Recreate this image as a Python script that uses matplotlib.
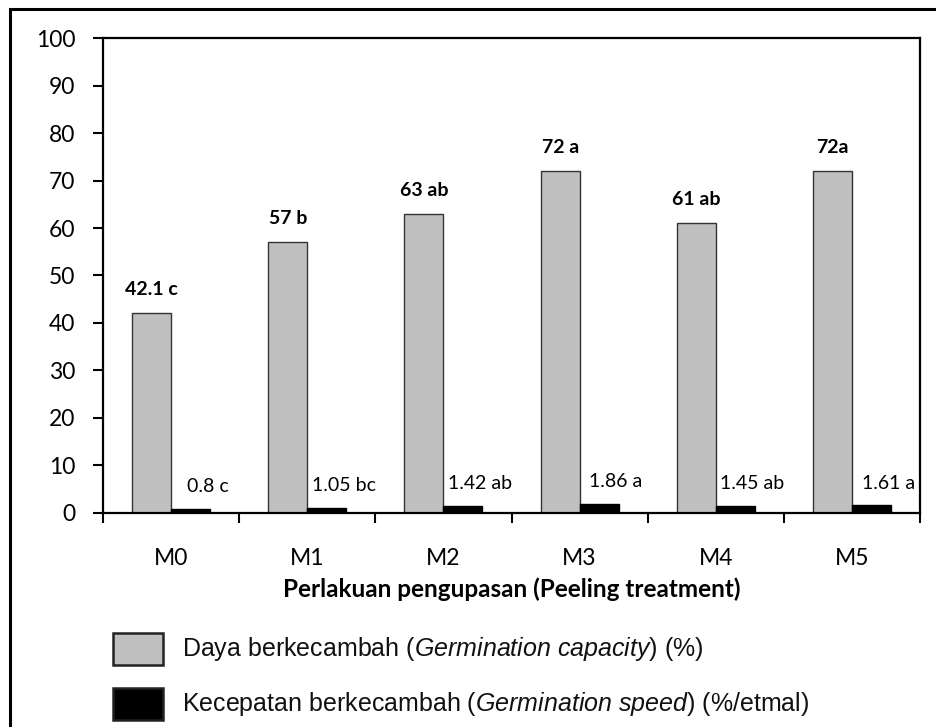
import numpy as np
import matplotlib.pyplot as plt
from matplotlib.patches import Rectangle

# data
treatments = ["M0", "M1", "M2", "M3", "M4", "M5"]
capacity = [42.1, 57, 63, 72, 61, 72]
capacity_labels = ["42.1 c", "57 b", "63 ab", "72 a", "61 ab", "72a"]
speed = [0.8, 1.05, 1.42, 1.86, 1.45, 1.61]
speed_labels = ["0.8 c", "1.05 bc", "1.42 ab", "1.86 a", "1.45 ab", "1.61 a"]
legend_labels = [
    r"Daya berkecambah ($\mathit{Germination\ capacity}$) (%)",
    r"Kecepatan berkecambah ($\mathit{Germination\ speed}$) (%/etmal)",
]

plt.rcParams["font.family"] = ["Lato", "DejaVu Sans"]
plt.rcParams["mathtext.fontset"] = "custom"
plt.rcParams["mathtext.rm"] = "Liberation Sans"
plt.rcParams["mathtext.it"] = "Liberation Sans:italic"

fig = plt.figure(figsize=(9.36, 7.27), dpi=100)
ax = fig.add_axes([0.110, 0.2944, 0.873, 0.6533])

x = np.arange(len(treatments))
w = 0.286
ax.bar(x - w / 2, capacity, w, color="#c0c0c0", edgecolor="#333333", linewidth=1.0)
ax.bar(x + w / 2, speed, w, color="black", edgecolor="black", linewidth=1.0)

for xi, v, lab in zip(x, capacity, capacity_labels):
    ax.text(xi - w / 2, v + 5, lab, ha="center", va="center",
            fontsize=14, fontweight="bold")
for xi, v, lab in zip(x, speed, speed_labels):
    ax.text(xi + w / 2 + 0.125, v + 4.7, lab, ha="center", va="center",
            fontsize=14)

ax.set_xlim(-0.5, len(treatments) - 0.5)
ax.set_ylim(0, 100)
ax.set_yticks(np.arange(0, 101, 10))
ax.set_xticks(np.arange(-0.5, len(treatments)), minor=False)
ax.set_xticklabels([])
ax.set_xticks(x, minor=True)
ax.set_xticklabels(treatments, minor=True)
ax.tick_params(axis="x", which="major", direction="out", length=7, width=1.5)
ax.tick_params(axis="x", which="minor", length=0, pad=25, labelsize=16.5)
ax.tick_params(axis="y", direction="out", length=7, width=1.5, pad=13, labelsize=16.5)
for s in ax.spines.values():
    s.set_linewidth(1.6)
ax.set_xlabel("Perlakuan pengupasan (Peeling treatment)", fontsize=17.5,
              fontweight="bold", labelpad=6)

# legend drawn by hand below the axes
colors = ["#c0c0c0", "black"]
ys = [649 / 727, 704 / 727]
for c, yc, lab in zip(colors, ys, legend_labels):
    fig.patches.append(Rectangle((113 / 936, 1 - yc - 16 / 727), 50 / 936, 32 / 727,
                                 transform=fig.transFigure, facecolor=c,
                                 edgecolor="#222222", linewidth=1.8))
    fig.text(182 / 936, 1 - yc, lab, ha="left", va="center", fontsize=18,
             family="Liberation Sans", color="#111111")

# outer frame
fig.patches.append(Rectangle((10 / 936, -0.05), 1.2, 1 - 9 / 727 + 0.05,
                             transform=fig.transFigure, fill=False,
                             edgecolor="black", linewidth=2.2))

plt.savefig("out.png", dpi=100)
